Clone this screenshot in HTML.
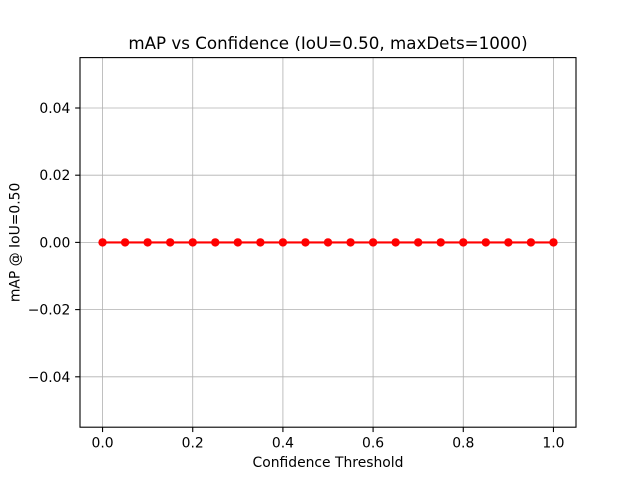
<!DOCTYPE html>
<html><head><meta charset="utf-8"><style>
body{margin:0;background:#fff;}
svg{display:block;font-family:"DejaVu Sans","Liberation Sans",sans-serif;}
</style></head><body>
<svg id="chart" width="640" height="480"></svg>
<script>
const thresholds=[0,0.05,0.1,0.15,0.2,0.25,0.3,0.35,0.4,0.45,0.5,0.55,0.6,0.65,0.7,0.75,0.8,0.85,0.9,0.95,1.0];
const mapValues=[0,0,0,0,0,0,0,0,0,0,0,0,0,0,0,0,0,0,0,0,0];
const xTicks=[0,0.2,0.4,0.6,0.8,1.0];
const xTickLabels=["0.0","0.2","0.4","0.6","0.8","1.0"];
const yTicks=[-0.04,-0.02,0,0.02,0.04];
const yTickLabels=["\u22120.04","\u22120.02","0.00","0.02","0.04"];

const L=80,R=576,T=57.6,B=427.2;
const xMin=-0.05,xMax=1.05,yMin=-0.055,yMax=0.055;
const xs=v=>L+(v-xMin)/(xMax-xMin)*(R-L);
const ys=v=>B-(v-yMin)/(yMax-yMin)*(B-T);
const NS="http://www.w3.org/2000/svg";
const svg=document.getElementById('chart');
function mk(tag,attrs,parent){const e=document.createElementNS(NS,tag);for(const k in attrs)e.setAttribute(k,attrs[k]);(parent||svg).appendChild(e);return e;}

const grid=mk('g',{});


xTicks.forEach((t,i)=>{
  const g=mk('line',{x1:xs(t),x2:xs(t),y1:T,y2:B,stroke:'#b0b0b0','stroke-width':0.8},grid);
  
  
  const tk=mk('line',{x1:xs(t),x2:xs(t),y1:B,y2:B+4.86,stroke:'#000','stroke-width':1.1});
  
  
  const tx=mk('text',{x:xs(t),y:B+20.5,'text-anchor':'middle','font-size':13.9,fill:'#000'});
  tx.textContent=xTickLabels[i];
  
  
});
yTicks.forEach((t,i)=>{
  const g=mk('line',{x1:L,x2:R,y1:ys(t),y2:ys(t),stroke:'#b0b0b0','stroke-width':0.8},grid);
  
  
  const tk=mk('line',{x1:L-4.86,x2:L,y1:ys(t),y2:ys(t),stroke:'#000','stroke-width':1.1});
  
  
  const tx=mk('text',{x:L-9.7,y:ys(t)+5,'text-anchor':'end','font-size':13.9,fill:'#000'});
  tx.textContent=yTickLabels[i];
  
  
});

const line=mk('polyline',{points:thresholds.map((t,i)=>xs(t)+','+ys(mapValues[i])).join(' '),fill:'none',stroke:'#ff0000','stroke-width':2.08});


thresholds.forEach((t,i)=>{
  const c=mk('circle',{cx:xs(t),cy:ys(mapValues[i]),r:4.2,fill:'#ff0000'});
  
  
});

const frame=mk('rect',{x:L,y:T,width:R-L,height:B-T,fill:'none',stroke:'#000','stroke-width':1.1});



const title=mk('text',{x:(L+R)/2,y:T-8.5,'text-anchor':'middle','font-size':16.7,fill:'#000'});
title.textContent='mAP vs Confidence (IoU=0.50, maxDets=1000)';


const xl=mk('text',{x:(L+R)/2,y:B+40,'text-anchor':'middle','font-size':13.9,fill:'#000'});
xl.textContent='Confidence Threshold';


const yl=mk('text',{x:0,y:0,'text-anchor':'middle','font-size':13.9,fill:'#000',transform:`translate(19.5,${(T+B)/2}) rotate(-90)`});
yl.textContent='mAP @ IoU=0.50';


</script>
</body></html>
